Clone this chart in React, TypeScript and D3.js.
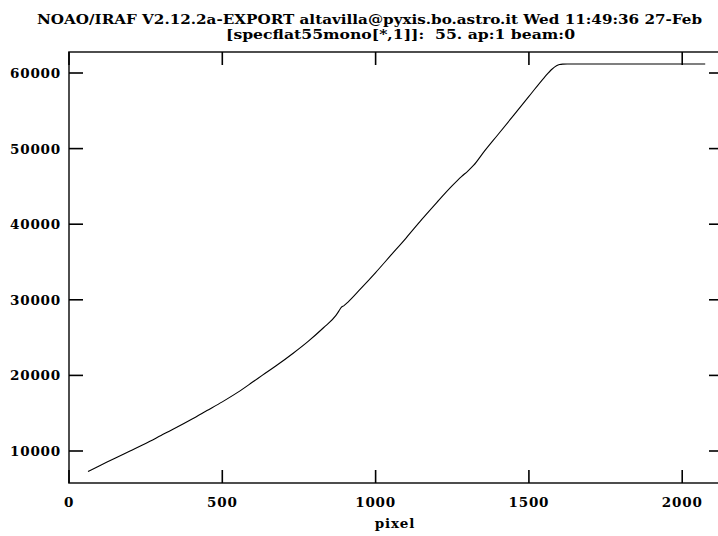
import React from "react";
import * as d3 from "d3";

const titleLine1 = "NOAO/IRAF V2.12.2a-EXPORT altavilla@pyxis.bo.astro.it Wed 11:49:36 27-Feb";
const titleLine2 = "[specflat55mono[*,1]]:  55. ap:1 beam:0";
const xLabel = "pixel";

const xTicks = [0, 500, 1000, 1500, 2000];
const yTicks = [10000, 20000, 30000, 40000, 50000, 60000];

const pixels = [
  62, 100, 150, 199, 250, 300, 350, 400, 450, 500, 550, 600, 630, 680, 730, 780,
  830, 870, 880, 888, 896, 910, 950, 1000, 1050, 1100, 1150, 1200, 1250, 1280,
  1300, 1320, 1350, 1400, 1450, 1500, 1550, 1575, 1590, 1600, 1610, 1625, 1650,
  1800, 2000, 2075,
];
const counts = [
  7300, 8050, 9050, 10000, 11000, 12050, 13100, 14200, 15350, 16500, 17750, 19150,
  20000, 21400, 22900, 24500, 26300, 27900, 28500, 29000, 29200, 29700, 31400,
  33600, 35900, 38200, 40600, 42900, 45100, 46300, 47000, 47800, 49400, 51900,
  54400, 56900, 59400, 60500, 60950, 61120, 61180, 61200, 61200, 61200, 61200, 61200,
];

const W = 718;
const H = 536;
const left = 69;
const right = 723;
const top = 52;
const bottom = 483;
const tickLen = 13;
const font = "'DejaVu Serif', serif";

export default function App() {
  const x = d3.scaleLinear().domain([0, 2133]).range([left, right]);
  const y = d3.scaleLinear().domain([5767, 62778]).range([bottom, top]);
  const pts: [number, number][] = pixels.map((p, i) => [p, counts[i]]);
  const line = d3
    .line<[number, number]>()
    .x((d) => x(d[0]))
    .y((d) => y(d[1]))
    .curve(d3.curveMonotoneX);

  return (
    <svg
      width={W}
      height={H}
      style={{ position: "absolute", left: 0, top: 0, background: "#fff" }}
    >
      <rect x={0} y={0} width={W} height={H} fill="#fff" />
      <text
        x={37}
        y={24}
        textLength={665}
        lengthAdjust="spacingAndGlyphs"
        fontFamily={font}
        fontWeight="bold"
        fontSize={13.5}
        fill="#000"
      >
        {titleLine1}
      </text>
      <text
        x={226}
        y={39}
        textLength={349}
        lengthAdjust="spacingAndGlyphs"
        fontFamily={font}
        fontWeight="bold"
        fontSize={13.5}
        fill="#000"
        style={{ whiteSpace: "pre" }}
      >
        {titleLine2}
      </text>

      <g clipPath="url(#clip)">
        <path d={line(pts) || ""} fill="none" stroke="#000" strokeWidth={1.1} />
      </g>
      <defs>
        <clipPath id="clip">
          <rect x={left} y={top} width={right - left} height={bottom - top} />
        </clipPath>
      </defs>

      <rect
        x={left}
        y={top}
        width={right - left}
        height={bottom - top}
        fill="none"
        stroke="#222"
        strokeWidth={1.6}
      />

      {xTicks.map((t) => (
        <g key={"x" + t}>
          <line x1={x(t)} x2={x(t)} y1={bottom} y2={bottom - tickLen} stroke="#000" strokeWidth={1.6} />
          <line x1={x(t)} x2={x(t)} y1={top} y2={top + tickLen} stroke="#000" strokeWidth={1.6} />
          <text
            x={x(t)}
            y={507}
            textAnchor="middle"
            fontFamily={font}
            fontWeight="bold"
            fontSize={13.5}
            letterSpacing={0.8}
            fill="#000"
          >
            {t}
          </text>
        </g>
      ))}

      {yTicks.map((t) => (
        <g key={"y" + t}>
          <line x1={left} x2={left + tickLen + 1} y1={y(t)} y2={y(t)} stroke="#000" strokeWidth={1.6} />
          <line x1={right} x2={right - tickLen - 1} y1={y(t)} y2={y(t)} stroke="#000" strokeWidth={1.6} />
          <text
            x={61}
            y={y(t) + 5}
            textAnchor="end"
            fontFamily={font}
            fontWeight="bold"
            fontSize={13.5}
            letterSpacing={0.8}
            fill="#000"
          >
            {t}
          </text>
        </g>
      ))}

      <text
        x={395}
        y={528}
        textAnchor="middle"
        fontFamily={font}
        fontWeight="bold"
        fontSize={13.5}
        letterSpacing={0.8}
        fill="#000"
      >
        {xLabel}
      </text>
    </svg>
  );
}
